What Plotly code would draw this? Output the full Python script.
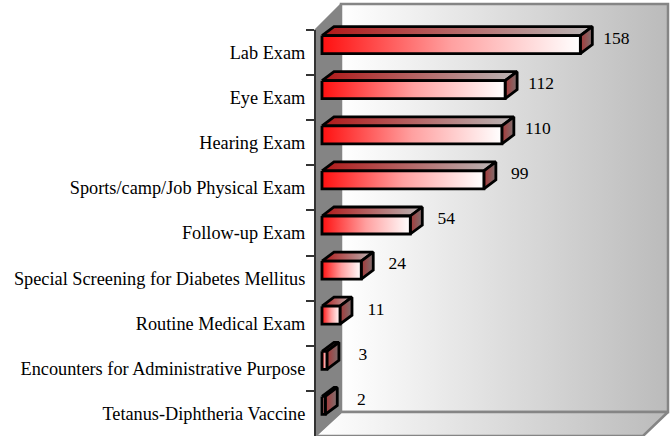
import plotly.graph_objects as go

categories = ["Lab Exam", "Eye Exam", "Hearing Exam", "Sports/camp/Job Physical Exam",
              "Follow-up Exam", "Special Screening for Diabetes Mellitus",
              "Routine Medical Exam", "Encounters for Administrative Purpose",
              "Tetanus-Diphtheria Vaccine"]
values = [158, 112, 110, 99, 54, 24, 11, 3, 2]

W, H = 670, 436
ZERO_PX, PX_PER_UNIT = 322, 1.635    # x scale
TOP_PX, BAND_PX = 30, 406 / 9        # y scale (band units, band i centred on i)
FONT = "Liberation Serif"

x_range = [-ZERO_PX / PX_PER_UNIT, (W - ZERO_PX) / PX_PER_UNIT]
y_range = [8.5, -0.5 - TOP_PX / BAND_PX]
ux = 1 / PX_PER_UNIT   # one pixel in x units
uy = 1 / BAND_PX       # one pixel in y units


def poly(xs, ys, colors=None, line="black", width=2.8, solid=None):
    kw = dict(x=list(xs) + [xs[0]], y=list(ys) + [ys[0]], mode="lines", fill="toself",
              line=dict(color=line, width=width), hoverinfo="skip", showlegend=False)
    if colors:
        kw["fillgradient"] = dict(type="horizontal", colorscale=[[i / (len(colors) - 1), c]
                                                                 for i, c in enumerate(colors)])
    else:
        kw["fillcolor"] = solid
    return go.Scatter(**kw)


fig = go.Figure()

# chart walls, in pixel-derived units
wl, wr = -7 * ux, 346 * ux          # front-left / back-right bounds relative to zero
bl = 19 * ux
yb = 8.5
yf = 8.5 - 24 * uy
ytop_front = -0.5
wall_line = "#858585"
fig.add_trace(poly([bl, wr, wr, bl], [yf, yf, yf - 408 * uy, yf - 408 * uy],
                   ["#ffffff", "#bbbbbb"], wall_line, 2.5))
fig.add_trace(poly([wl, bl, wr, wr - 25 * ux], [yb, yf, yf, yb],
                   ["#ffffff", "#bbbbbb"], wall_line, 2.5))
fig.add_trace(poly([wl, bl, bl, wl], [yb, yf, yf - 408 * uy, ytop_front],
                   None, wall_line, 1.5, solid="#848484"))

# 3-D bars
half, dy, dx = 9 * uy, 9 * uy, 12 * ux
lift = 8 * uy
for i, v in enumerate(values):
    c = i - lift
    t, b = c - half, c + half
    fig.add_trace(poly([0, v + 0, v + dx, dx], [t, t, t - dy, t - dy],
                       ["#b01818", "#bab6b6"]))
    fig.add_trace(poly([v, v + dx, v + dx, v], [t, t - dy, b - dy, b],
                       ["#a83838", "#7d7070"]))
    fig.add_trace(poly([0, v, v, 0], [t, t, b, b],
                       ["#ff1010", "#ffa0a0", "#ffffff"]))

# value labels
fig.add_trace(go.Scatter(
    x=[v + 36 * ux for v in values],
    y=[i - lift - 5 * uy for i in range(len(values))],
    text=[str(v) for v in values], mode="text", textposition="middle center",
    textfont=dict(family=FONT, size=17.5, color="black"),
    hoverinfo="skip", showlegend=False))

# category axis carrying the data
fig.add_trace(go.Bar(y=categories, x=values, orientation="h", xaxis="x", yaxis="y2",
                     opacity=0, showlegend=False, hoverinfo="x+y"))

fig.update_layout(
    width=W, height=H, margin=dict(l=0, r=0, t=0, b=0),
    paper_bgcolor="white", plot_bgcolor="rgba(0,0,0,0)", showlegend=False,
    xaxis=dict(range=x_range, visible=False, fixedrange=True),
    yaxis=dict(range=y_range, visible=False, fixedrange=True, domain=[0, 1]),
    yaxis2=dict(type="category", categoryorder="array", categoryarray=categories,
                range=[8.5, -0.5], domain=[0, 1 - TOP_PX / H], anchor="free",
                position=(ZERO_PX - 7) / W, tickson="boundaries", ticks="outside",
                ticklen=8, tickwidth=1.5, tickcolor="#333333", showline=True,
                linecolor="#333333", linewidth=2, showgrid=False, zeroline=False,
                fixedrange=True, tickmode="linear", dtick=1, ticklabelstandoff=5,
                tickfont=dict(family=FONT, size=18.3, color="black")),
)

fig.write_html("out.html", config={"displayModeBar": False},
               post_script="document.body.style.margin='0';document.body.style.overflow='hidden';")
